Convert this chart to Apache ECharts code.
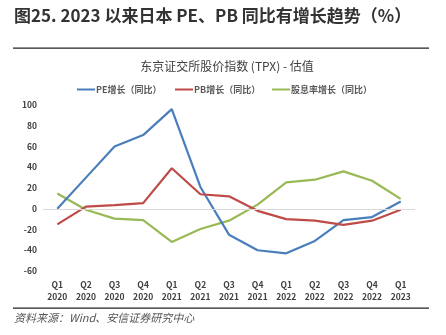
<!DOCTYPE html>
<html>
<head>
<meta charset="utf-8">
<script src="https://cdn.jsdelivr.net/npm/echarts@6/dist/echarts.min.js"></script>
<style>
  html, body { margin: 0; padding: 0; background: #fff; }
  #chart { width: 446px; height: 335px; }
</style>
</head>
<body>
<div id="chart"></div>
<script>
// Quarterly periods
const quarters = ['Q1\n2020', 'Q2\n2020', 'Q3\n2020', 'Q4\n2020', 'Q1\n2021', 'Q2\n2021', 'Q3\n2021',
                  'Q4\n2021', 'Q1\n2022', 'Q2\n2022', 'Q3\n2022', 'Q4\n2022', 'Q1\n2023'];
// Year-on-year growth, %
const peGrowth  = [0, 30, 60, 71, 96, 21, -25, -40, -43, -31, -11, -8, 7];
const pbGrowth  = [-15, 2, 3.5, 5.4, 39, 14, 12, -2, -10, -11.5, -15.5, -11.5, -1];
const divGrowth = [14.7, -1, -9.5, -11, -32, -19.5, -11.5, 4, 25.5, 28, 36, 27, 9.5];
const seriesNames = ['PE增长（同比）', 'PB增长（同比）', '股息率增长（同比）'];
const yTicks = { min: -60, max: 100, interval: 20 };

const font = '"Noto Sans CJK SC", "Noto Sans", sans-serif';
const chart = echarts.init(document.getElementById('chart'), null, { renderer: 'canvas' });

const lineSeries = (name, data, color) => ({
  name, type: 'line', data, symbol: 'none', smooth: false,
  lineStyle: { color, width: 2.2 }, itemStyle: { color }
});

// one legend block per series so each entry sits at its own spot
const legendAt = (name, left) => ({
  top: 80, left, itemWidth: 18, itemHeight: 2, icon: 'rect', itemGap: 0,
  textStyle: { fontFamily: font, fontSize: 9, fontWeight: 'bold', color: '#595959', padding: [0, 0, 0, -4] },
  data: [name]
});

chart.setOption({
  animation: false,
  backgroundColor: '#fff',
  title: {
    text: '东京证交所股价指数 (TPX) - 估值',
    left: 222, top: 55, textAlign: 'center',
    textStyle: { fontFamily: font, fontSize: 12, fontWeight: 'normal', color: '#404040' }
  },
  legend: [
    legendAt(seriesNames[0], 72),
    legendAt(seriesNames[1], 170),
    legendAt(seriesNames[2], 267)
  ],
  grid: { left: 43, right: 31, top: 105, bottom: 64, containLabel: false },
  xAxis: {
    type: 'category', data: quarters, boundaryGap: true,
    axisLine: { show: false }, axisTick: { show: false },
    axisLabel: { fontFamily: font, fontSize: 8.5, fontWeight: 'bold', color: '#404040', lineHeight: 12, margin: 8, interval: 0 }
  },
  yAxis: {
    type: 'value', min: yTicks.min, max: yTicks.max, interval: yTicks.interval,
    splitLine: { show: false },
    axisLine: { show: false }, axisTick: { show: false },
    axisLabel: { fontFamily: font, fontSize: 8.5, fontWeight: 'bold', color: '#404040', margin: 6 }
  },
  series: [
    lineSeries(seriesNames[0], peGrowth, '#4a7ebb'),
    lineSeries(seriesNames[1], pbGrowth, '#be4b48'),
    Object.assign(lineSeries(seriesNames[2], divGrowth, '#98b954'), {
      markLine: {
        silent: true, symbol: 'none', label: { show: false },
        lineStyle: { color: '#d9d9d9', width: 1, type: 'solid' },
        data: [{ yAxis: 0 }]
      },
      z: 1
    })
  ],
  graphic: [
    {
      type: 'text', left: 14, top: 7,
      style: { text: '图25. 2023 以来日本 PE、PB 同比有增长趋势（%）', font: 'bold 17px ' + font, fill: '#333' }
    },
    { type: 'rect', shape: { x: 13, y: 47.5, width: 416, height: 1.2 }, style: { fill: '#222' } },
    { type: 'rect', shape: { x: 13, y: 307.5, width: 416, height: 1.2 }, style: { fill: '#222' } },
    {
      type: 'text', left: 14, top: 312,
      style: { text: '资料来源：Wind、安信证券研究中心', font: 'italic 11px ' + font, fill: '#555' }
    }
  ]
});
</script>
</body>
</html>
